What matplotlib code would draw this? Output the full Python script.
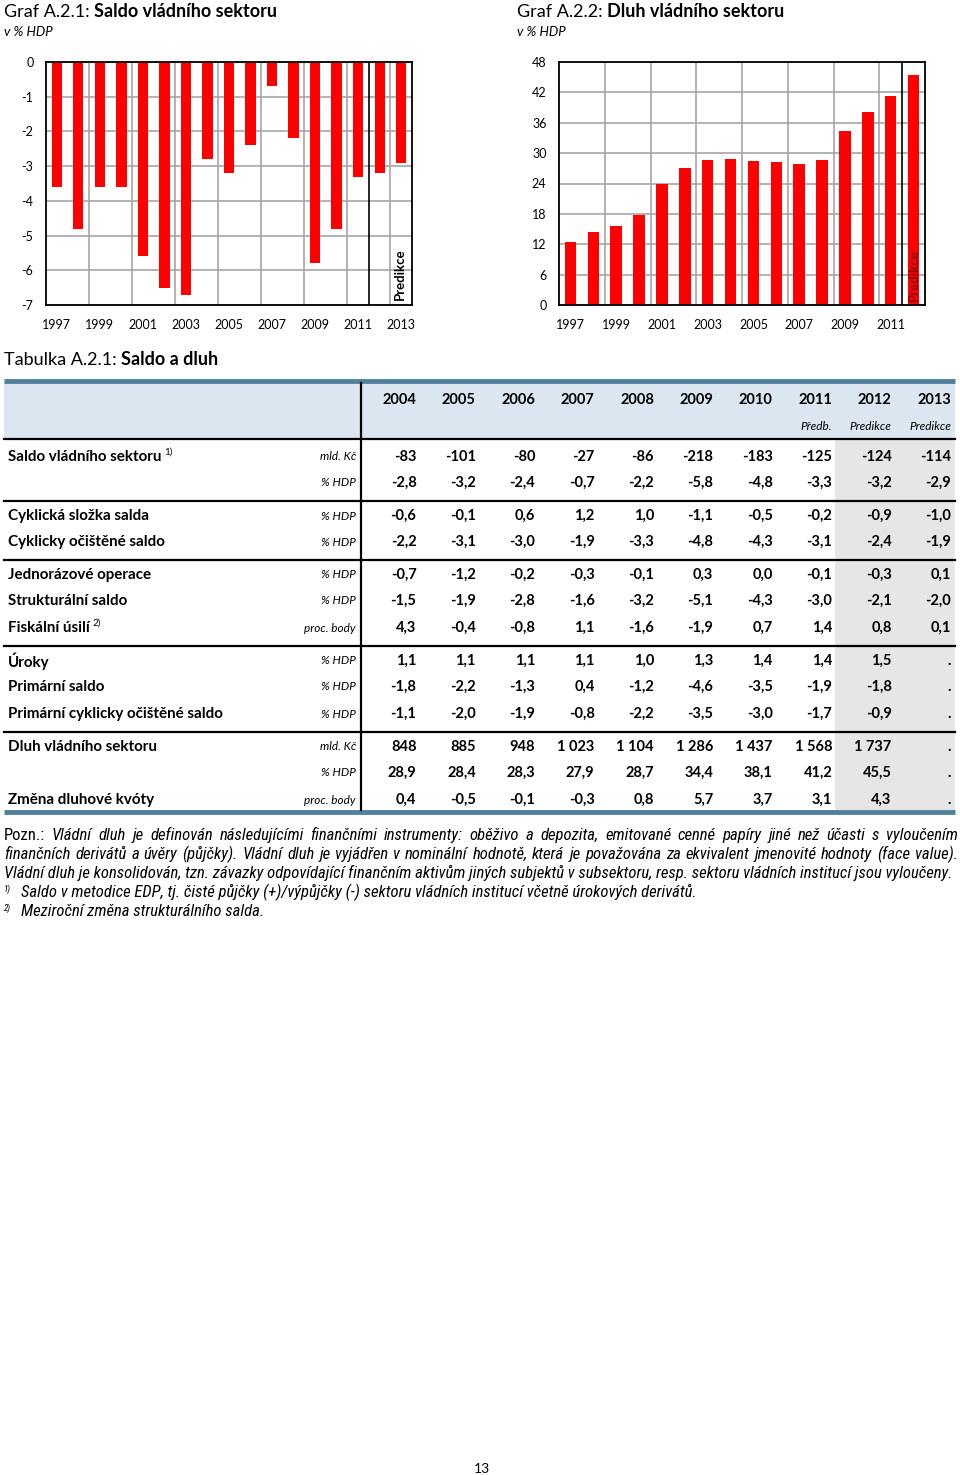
import matplotlib
matplotlib.use("Agg")
import matplotlib.pyplot as plt
from matplotlib import font_manager
import numpy as np

plt.rcParams["font.family"] = ["Lato", "DejaVu Sans"]

# --- data: charts ---
years_saldo = [str(y) for y in range(1997, 2014)]
saldo = [-3.6, -4.8, -3.6, -3.6, -5.6, -6.5, -6.7, -2.8, -3.2, -2.4, -0.7, -2.2, -5.8, -4.8, -3.3, -3.2, -2.9]
years_dluh = [str(y) for y in range(1997, 2013)]
dluh = [12.4, 14.5, 15.6, 17.7, 23.9, 27.1, 28.6, 28.9, 28.4, 28.3, 27.9, 28.7, 34.4, 38.1, 41.2, 45.5]

# --- data: table ---
tab_years = ["2004", "2005", "2006", "2007", "2008", "2009", "2010", "2011", "2012", "2013"]
tab_sub = ["", "", "", "", "", "", "", "Předb.", "Predikce", "Predikce"]
row_labels = ["Saldo vládního sektoru", "", "Cyklická složka salda", "Cyklicky očištěné saldo",
              "Jednorázové operace", "Strukturální saldo", "Fiskální úsilí", "Úroky",
              "Primární saldo", "Primární cyklicky očištěné saldo", "Dluh vládního sektoru", "",
              "Změna dluhové kvóty"]
row_sup = ["1)", "", "", "", "", "", "2)", "", "", "", "", "", ""]
row_units = ["mld. Kč", "% HDP", "% HDP", "% HDP", "% HDP", "% HDP", "proc. body", "% HDP",
             "% HDP", "% HDP", "mld. Kč", "% HDP", "proc. body"]
row_values = [
    [-83, -101, -80, -27, -86, -218, -183, -125, -124, -114],
    [-2.8, -3.2, -2.4, -0.7, -2.2, -5.8, -4.8, -3.3, -3.2, -2.9],
    [-0.6, -0.1, 0.6, 1.2, 1.0, -1.1, -0.5, -0.2, -0.9, -1.0],
    [-2.2, -3.1, -3.0, -1.9, -3.3, -4.8, -4.3, -3.1, -2.4, -1.9],
    [-0.7, -1.2, -0.2, -0.3, -0.1, 0.3, 0.0, -0.1, -0.3, 0.1],
    [-1.5, -1.9, -2.8, -1.6, -3.2, -5.1, -4.3, -3.0, -2.1, -2.0],
    [4.3, -0.4, -0.8, 1.1, -1.6, -1.9, 0.7, 1.4, 0.8, 0.1],
    [1.1, 1.1, 1.1, 1.1, 1.0, 1.3, 1.4, 1.4, 1.5, None],
    [-1.8, -2.2, -1.3, 0.4, -1.2, -4.6, -3.5, -1.9, -1.8, None],
    [-1.1, -2.0, -1.9, -0.8, -2.2, -3.5, -3.0, -1.7, -0.9, None],
    [848, 885, 948, 1023, 1104, 1286, 1437, 1568, 1737, None],
    [28.9, 28.4, 28.3, 27.9, 28.7, 34.4, 38.1, 41.2, 45.5, None],
    [0.4, -0.5, -0.1, -0.3, 0.8, 5.7, 3.7, 3.1, 4.3, None],
]
group_breaks = [1, 3, 6, 9]  # line drawn after these rows

note_lines = [
    "Pozn.: Vládní dluh je definován následujícími finančními instrumenty: oběživo a depozita, emitované cenné papíry jiné než účasti s vyloučením",
    "finančních derivátů a úvěry (půjčky). Vládní dluh je vyjádřen v nominální hodnotě, která je považována za ekvivalent jmenovité hodnoty (face value).",
    "Vládní dluh je konsolidován, tzn. závazky odpovídající finančním aktivům jiných subjektů v subsektoru, resp. sektoru vládních institucí jsou vyloučeny.",
]
footnotes = [
    ("1)", "Saldo v metodice EDP, tj. čisté půjčky (+)/výpůjčky (-) sektoru vládních institucí včetně úrokových derivátů."),
    ("2)", "Meziroční změna strukturálního salda."),
]

W, H = 960, 1475
RED = "#ff0000"
GRID = "#a6a6a6"
TEAL = "#4f819d"

# narrower face for the long notes, if one is around
installed = {f.name for f in font_manager.fontManager.ttflist}
note_family = "Lato"
for cand in ["Liberation Sans Narrow", "DejaVu Sans Condensed", "Roboto Condensed", "Open Sans Condensed"]:
    if cand in installed:
        note_family = cand
        break

fig = plt.figure(figsize=(W / 100, H / 100), dpi=100)


def px_axes(x0, y0, x1, y1):
    return fig.add_axes([x0 / W, 1 - y1 / H, (x1 - x0) / W, (y1 - y0) / H])


def style_bar_axes(ax, n, yticks):
    ax.set_xlim(-0.5, n - 0.5)
    ax.set_yticks(yticks)
    ax.set_yticklabels([str(t) for t in yticks])
    ax.set_xticks(range(0, n, 2))
    ax.tick_params(length=0, labelsize=9, pad=9)
    ax.tick_params(axis="x", pad=10)
    ax.yaxis.grid(True, color=GRID, lw=1.2)
    for b in np.arange(1.5, n - 0.5, 2):
        ax.axvline(b, color=GRID, lw=1.2, zorder=0.5)
    ax.set_axisbelow(True)
    for s in ax.spines.values():
        s.set_linewidth(1.3)
        s.set_color("black")


# --- left chart ---
ax1 = px_axes(46, 62, 412, 305)
x1 = np.arange(len(saldo))
ax1.bar(x1, saldo, width=0.48, color=RED, zorder=2)
ax1.set_ylim(-7, 0)
style_bar_axes(ax1, len(saldo), list(range(0, -8, -1)))
ax1.set_xticklabels(years_saldo[::2])
ax1.axvline(14.5, color="black", lw=1.2, zorder=3)
ax1.text(15.95, -6.85, "Predikce", rotation=90, ha="center", va="bottom",
         fontsize=9.5, fontweight="bold", zorder=4)

# --- right chart ---
ax2 = px_axes(559, 62, 925, 305)
x2 = np.arange(len(dluh))
ax2.bar(x2, dluh, width=0.5, color=RED, zorder=2)
ax2.set_ylim(0, 48)
style_bar_axes(ax2, len(dluh), list(range(48, -1, -6)))
ax2.set_xticklabels(years_dluh[::2])
ax2.axvline(14.5, color="black", lw=1.2, zorder=3)
ax2.text(15, 0.8, "Predikce", rotation=90, ha="center", va="bottom",
         fontsize=9.5, fontweight="bold", color="#8b0000", zorder=4)

# --- overlay for titles and table ---
ov = fig.add_axes([0, 0, 1, 1], zorder=-1)
ov.set_xlim(0, W)
ov.set_ylim(H, 0)
ov.axis("off")
renderer = fig.canvas.get_renderer()


def width_px(t):
    return t.get_window_extent(renderer=renderer).width


def runs(x, y, parts, **kw):
    """Draw consecutive text pieces (text, props) starting at x."""
    for txt, props in parts:
        t = ov.text(x, y, txt, va="baseline", ha="left", **kw, **props)
        x += width_px(t)
    return x


runs(4, 17, [("Graf A.2.1: ", {}), ("Saldo vládního sektoru", {"fontweight": "bold"})], fontsize=13)
ov.text(4, 36, "v % HDP", fontsize=9.5, style="italic", va="baseline")
runs(517, 17, [("Graf A.2.2: ", {}), ("Dluh vládního sektoru", {"fontweight": "bold"})], fontsize=13)
ov.text(517, 36, "v % HDP", fontsize=9.5, style="italic", va="baseline")

runs(4, 365, [("Tabulka A.2.1: ", {}), ("Saldo a dluh", {"fontweight": "bold"})], fontsize=13)

# table frame
ov.fill_between([4, 955], 382, 438, color="#dce6f1", lw=0)
ov.fill_between([835, 955], 440, 811, color="#e6e6e6", lw=0)
ov.plot([4, 955], [381, 381], color=TEAL, lw=3.5, solid_capstyle="butt")
ov.plot([4, 955], [812, 812], color=TEAL, lw=3.5, solid_capstyle="butt")
ov.plot([4, 955], [439, 439], color="black", lw=1.6)
ov.plot([361, 361], [383, 810], color="black", lw=1.6)

col_w = (955 - 361) / len(tab_years)
col_r = [361 + col_w * (i + 1) - 4 for i in range(len(tab_years))]
for xr, yr, sub in zip(col_r, tab_years, tab_sub):
    ov.text(xr, 400, yr, ha="right", va="center", fontsize=10.5, fontweight="bold")
    if sub:
        ov.text(xr, 427, sub, ha="right", va="center", fontsize=8.5, style="italic")


def fmt(v, unit):
    if v is None:
        return "."
    if unit == "mld. Kč":
        return f"{int(v):,}".replace(",", " ")
    return f"{v:.1f}".replace(".", ",")


row_y = [457, 483, 516, 542, 575, 601, 628, 661, 687, 714, 747, 773, 800]
for i, (lab, sup, unit, vals) in enumerate(zip(row_labels, row_sup, row_units, row_values)):
    y = row_y[i]
    if lab:
        t = ov.text(8, y, lab, ha="left", va="center", fontsize=10.9, fontweight="bold")
        if sup:
            ov.text(8 + width_px(t) + 3, y - 5, sup, ha="left", va="center", fontsize=7)
    ov.text(356, y, unit, ha="right", va="center", fontsize=8.5, style="italic")
    for xr, v in zip(col_r, vals):
        ov.text(xr, y, fmt(v, unit), ha="right", va="center", fontsize=10.5, fontweight="bold")
    if i in group_breaks:
        yl = (row_y[i] + row_y[i + 1]) / 2 + 1
        ov.plot([4, 955], [yl, yl], color="black", lw=1.6)

# --- notes ---
# size the notes so the unjustified third line ends where it does in the source
base_fs = 10
probe = ov.text(0, 0, note_lines[2], fontsize=base_fs, style="italic", family=note_family)
nat = width_px(probe)
probe.remove()
note_fs = min(12.5, base_fs * 946 / nat)


def justify(y, line, x0, x1, first_upright=False):
    words = line.split(" ")
    arts = []
    for k, w in enumerate(words):
        st = "normal" if (first_upright and k == 0) else "italic"
        arts.append(ov.text(0, y, w, fontsize=note_fs, style=st, va="baseline", family=note_family))
    widths = [width_px(a) for a in arts]
    gap = (x1 - x0 - sum(widths)) / (len(words) - 1)
    x = x0
    for a, w in zip(arts, widths):
        a.set_x(x)
        x += w + gap


note_y = [840, 859, 878]
justify(note_y[0], note_lines[0], 4, 958, first_upright=True)
justify(note_y[1], note_lines[1], 4, 958)
ov.text(4, note_y[2], note_lines[2], fontsize=note_fs, style="italic", va="baseline", family=note_family)
for (mark, txt), y in zip(footnotes, [897, 916]):
    ov.text(4, y - 5, mark, fontsize=6.5, style="italic", va="baseline", family=note_family)
    ov.text(21, y, txt, fontsize=note_fs, style="italic", va="baseline", family=note_family)

ov.text(482, 1469, "13", ha="center", va="center", fontsize=10)

fig.savefig("out.png", dpi=100)
